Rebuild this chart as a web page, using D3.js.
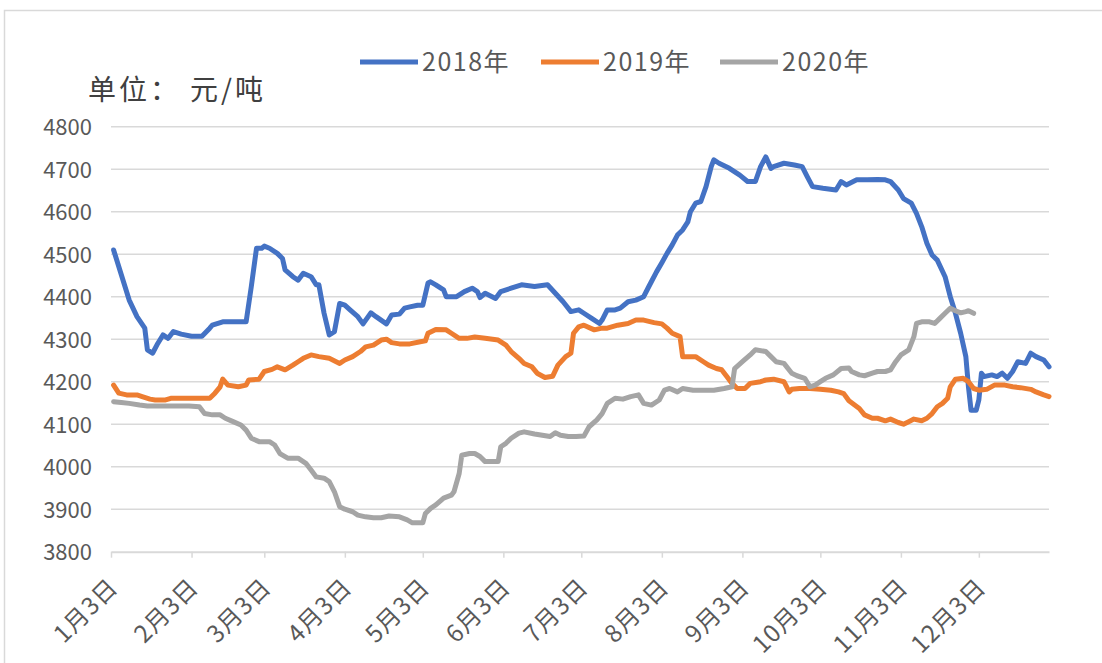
<!DOCTYPE html>
<html>
<head>
<meta charset="utf-8">
<script src="https://cdn.jsdelivr.net/npm/d3@7"></script>
<style>
  body { margin: 0; background: #fff; }
  text { font-family: "Noto Sans CJK SC", "Noto Sans", sans-serif; }
</style>
</head>
<body>
<svg id="chart" width="1102" height="663"></svg>
<script>
  /*
   * Data, "MM-DD" and 元/吨
   */
  var SERIES_NAMES = ["2018年", "2019年", "2020年"];
  var SERIES_COLORS = ["#4472C4", "#ED7D31", "#A5A5A5"];

  var DATA_2018 = [
    ["01-04",4510],["01-10",4392],["01-13",4353],["01-16",4326],["01-17",4275],["01-19",4267],
    ["01-21",4290],["01-23",4310],["01-25",4302],["01-27",4318],["01-30",4312],["02-03",4307],
    ["02-07",4307],["02-10",4326],["02-11",4333],["02-15",4341],["02-20",4341],["02-24",4341],
    ["02-26",4424],["02-28",4514],["03-02",4514],["03-03",4519],["03-05",4514],["03-08",4502],
    ["03-10",4490],["03-11",4463],["03-14",4447],["03-16",4439],["03-18",4455],["03-21",4447],
    ["03-23",4428],["03-24",4428],["03-26",4361],["03-28",4310],["03-30",4318],["04-01",4384],
    ["04-03",4380],["04-05",4369],["04-08",4353],["04-10",4336],["04-13",4362],["04-15",4353],
    ["04-19",4336],["04-21",4357],["04-24",4359],["04-26",4373],["04-28",4376],["05-01",4380],
    ["05-03",4380],["05-05",4432],["05-06",4435],["05-08",4428],["05-11",4416],["05-12",4400],
    ["05-16",4400],["05-19",4412],["05-22",4420],["05-24",4412],["05-25",4398],["05-27",4408],
    ["05-31",4396],["06-02",4412],["06-06",4420],["06-10",4428],["06-15",4424],["06-20",4428],
    ["06-23",4408],["06-26",4388],["06-29",4365],["07-02",4369],["07-04",4361],["07-07",4349],
    ["07-10",4337],["07-11",4345],["07-13",4369],["07-16",4369],["07-18",4373],["07-21",4388],
    ["07-24",4392],["07-27",4400],["07-29",4424],["08-01",4459],["08-03",4480],["08-05",4502],
    ["08-07",4522],["08-09",4545],["08-11",4557],["08-13",4576],["08-14",4600],["08-16",4620],
    ["08-18",4624],["08-20",4659],["08-22",4706],["08-23",4722],["08-25",4714],["08-29",4702],
    ["09-02",4686],["09-05",4671],["09-08",4671],["09-10",4706],["09-12",4729],["09-14",4702],
    ["09-15",4706],["09-19",4714],["09-23",4710],["09-26",4706],["09-28",4682],["09-30",4659],
    ["10-04",4655],["10-09",4651],["10-11",4671],["10-13",4663],["10-17",4675],["10-21",4675],
    ["10-25",4676],["10-28",4675],["10-30",4671],["11-02",4651],["11-04",4631],["11-07",4620],
    ["11-09",4596],["11-11",4565],["11-13",4526],["11-15",4498],["11-17",4486],["11-20",4447],
    ["11-22",4400],["11-24",4361],["11-26",4314],["11-28",4259],["11-29",4188],["11-30",4133],
    ["12-02",4133],["12-03",4157],["12-04",4220],["12-05",4212],["12-08",4216],["12-10",4212],
    ["12-12",4220],["12-14",4208],["12-16",4224],["12-18",4247],["12-21",4243],["12-23",4267],
    ["12-25",4259],["12-28",4251],["12-30",4235]
  ];

  var DATA_2019 = [
    ["01-04",4192],["01-06",4173],["01-09",4169],["01-11",4169],["01-13",4169],["01-15",4165],
    ["01-18",4159],["01-20",4157],["01-24",4157],["01-26",4161],["01-30",4161],["02-03",4161],
    ["02-07",4161],["02-10",4161],["02-12",4173],["02-14",4188],["02-15",4206],["02-17",4192],
    ["02-21",4188],["02-24",4192],["02-25",4204],["03-01",4206],["03-03",4224],["03-06",4229],
    ["03-08",4235],["03-11",4228],["03-14",4239],["03-16",4247],["03-18",4255],["03-21",4263],
    ["03-24",4259],["03-28",4255],["04-01",4243],["04-03",4251],["04-06",4259],["04-09",4271],
    ["04-11",4282],["04-14",4286],["04-17",4298],["04-19",4300],["04-21",4292],["04-24",4289],
    ["04-28",4289],["05-02",4294],["05-04",4296],["05-05",4314],["05-08",4323],["05-12",4322],
    ["05-14",4314],["05-17",4302],["05-20",4302],["05-23",4305],["05-27",4302],["06-01",4298],
    ["06-04",4286],["06-06",4271],["06-09",4255],["06-11",4243],["06-14",4235],["06-16",4220],
    ["06-19",4210],["06-22",4213],["06-24",4239],["06-27",4259],["06-29",4267],["06-30",4314],
    ["07-02",4329],["07-04",4333],["07-08",4322],["07-11",4326],["07-13",4326],["07-17",4333],
    ["07-21",4337],["07-24",4345],["07-27",4345],["07-31",4339],["08-03",4336],["08-05",4326],
    ["08-07",4314],["08-10",4306],["08-11",4259],["08-14",4259],["08-16",4259],["08-19",4247],
    ["08-21",4239],["08-24",4231],["08-26",4228],["08-28",4212],["08-30",4196],["09-01",4184],
    ["09-04",4184],["09-06",4196],["09-10",4200],["09-12",4204],["09-15",4206],["09-19",4200],
    ["09-21",4176],["09-22",4182],["09-25",4184],["09-29",4184],["10-03",4182],["10-07",4180],
    ["10-10",4176],["10-12",4172],["10-14",4155],["10-18",4137],["10-20",4122],["10-23",4114],
    ["10-25",4114],["10-28",4108],["10-30",4112],["11-02",4104],["11-04",4100],["11-06",4106],
    ["11-08",4112],["11-11",4108],["11-13",4114],["11-15",4125],["11-17",4141],["11-19",4149],
    ["11-21",4161],["11-22",4188],["11-24",4206],["11-27",4208],["11-29",4200],["12-01",4184],
    ["12-03",4180],["12-06",4182],["12-09",4192],["12-13",4192],["12-16",4188],["12-19",4186],
    ["12-23",4182],["12-25",4176],["12-28",4169],["12-30",4165]
  ];

  var DATA_2020 = [
    ["01-04",4153],["01-07",4151],["01-10",4149],["01-14",4145],["01-17",4143],["01-23",4143],
    ["01-28",4143],["02-02",4143],["02-06",4141],["02-08",4125],["02-11",4122],["02-14",4122],
    ["02-16",4114],["02-19",4106],["02-22",4098],["02-24",4086],["02-26",4067],["03-01",4059],
    ["03-05",4059],["03-07",4051],["03-09",4031],["03-12",4020],["03-16",4020],["03-19",4008],
    ["03-21",3992],["03-23",3976],["03-26",3973],["03-28",3965],["03-30",3941],["04-01",3906],
    ["04-03",3900],["04-06",3894],["04-08",3886],["04-11",3882],["04-14",3880],["04-17",3880],
    ["04-20",3884],["04-24",3882],["04-27",3875],["04-29",3868],["05-03",3868],["05-04",3890],
    ["05-06",3902],["05-08",3910],["05-11",3926],["05-14",3933],["05-15",3941],["05-17",3984],
    ["05-18",4027],["05-21",4031],["05-23",4031],["05-25",4024],["05-27",4012],["06-01",4012],
    ["06-02",4047],["06-04",4055],["06-06",4067],["06-09",4079],["06-11",4082],["06-15",4077],
    ["06-18",4074],["06-21",4071],["06-23",4080],["06-25",4074],["06-28",4071],["07-01",4071],
    ["07-04",4072],["07-06",4094],["07-09",4110],["07-11",4125],["07-13",4149],["07-16",4161],
    ["07-19",4159],["07-22",4165],["07-25",4169],["07-27",4149],["07-30",4145],["08-02",4157],
    ["08-04",4180],["08-06",4184],["08-09",4176],["08-11",4184],["08-15",4180],["08-19",4180],
    ["08-23",4180],["08-27",4184],["08-30",4188],["08-31",4231],["09-03",4247],["09-06",4263],
    ["09-08",4275],["09-12",4271],["09-14",4259],["09-16",4247],["09-19",4243],["09-22",4220],
    ["09-24",4214],["09-27",4208],["09-29",4188],["10-01",4192],["10-03",4200],["10-05",4208],
    ["10-08",4216],["10-11",4231],["10-14",4232],["10-15",4224],["10-18",4216],["10-20",4214],
    ["10-23",4220],["10-25",4224],["10-28",4224],["10-30",4228],["11-01",4247],["11-03",4263],
    ["11-06",4275],["11-08",4306],["11-09",4337],["11-11",4341],["11-14",4341],["11-16",4337],
    ["11-18",4349],["11-20",4361],["11-22",4373],["11-24",4367],["11-26",4362],["11-28",4365],
    ["11-29",4367],["12-01",4361]
  ];

  // Axis ticks:
  var X_TICKS = ["01-03","02-03","03-03","04-03","05-03","06-03",
                 "07-03","08-03","09-03","10-03","11-03","12-03"];
  var Y_TICKS = [3800, 3900, 4000, 4100, 4200, 4300, 4400, 4500, 4600, 4700, 4800];
  var X_DOMAIN = ["01-03", "12-30"];
  var Y_DOMAIN = [3800, 4800];
  var UNIT_LABEL = ["单位：", "元/吨"];

  /*
   * Layout
   */
  var PLOT_LEFT = 111;
  var PLOT_RIGHT = 1049;
  var PLOT_TOP = 126.7;
  var PLOT_BOTTOM = 551.7;
  var GRID_COLOR = "#d9d9d9";
  var TEXT_COLOR = "#595959";
  var LINE_WIDTH = 5;

  var parse = d3.timeParse("%Y-%m-%d");
  function to_date(s) { return parse("2018-" + s); }

  var svg = d3.select("#chart");

  // outer frame
  svg.append("rect")
    .attr("x", 4.5).attr("y", 10.5)
    .attr("width", 1110).attr("height", 670)
    .attr("fill", "none")
    .attr("stroke", GRID_COLOR)
    .attr("stroke-width", 1.5);

  var x = d3.scaleTime()
    .domain(X_DOMAIN.map(to_date))
    .range([PLOT_LEFT, PLOT_RIGHT]);
  var y = d3.scaleLinear()
    .domain(Y_DOMAIN)
    .range([PLOT_BOTTOM, PLOT_TOP]);

  // gridlines
  svg.append("g")
    .selectAll("line")
    .data(Y_TICKS.slice(1))
    .enter().append("line")
    .attr("x1", PLOT_LEFT).attr("x2", PLOT_RIGHT)
    .attr("y1", function (d) { return y(d); })
    .attr("y2", function (d) { return y(d); })
    .attr("stroke", GRID_COLOR)
    .attr("stroke-width", 1.5);

  // y-axis labels
  svg.append("g")
    .attr("transform", "translate(" + (PLOT_LEFT - 19) + ",0)")
    .call(d3.axisLeft(y).tickValues(Y_TICKS).tickSize(0).tickFormat(d3.format("d")))
    .call(function (g) { g.select(".domain").remove(); })
    .selectAll("text")
    .attr("x", 0)
    .attr("dy", "0.36em")
    .attr("fill", TEXT_COLOR)
    .style("font-size", "22px");

  // x-axis
  var xaxis = svg.append("g")
    .attr("transform", "translate(0," + PLOT_BOTTOM + ")")
    .call(d3.axisBottom(x)
      .tickValues(X_TICKS.map(to_date))
      .tickSize(6)
      .tickSizeOuter(0)
      .tickFormat(d3.timeFormat("%-m月%-d日")));
  xaxis.select(".domain")
    .attr("stroke", GRID_COLOR)
    .attr("stroke-width", 2);
  xaxis.selectAll(".tick line")
    .attr("stroke", GRID_COLOR)
    .attr("stroke-width", 1.5);
  xaxis.selectAll(".tick text")
    .attr("fill", TEXT_COLOR)
    .style("font-size", "24px")
    .style("letter-spacing", "1px")
    .attr("text-anchor", "end")
    .attr("y", 0)
    .attr("dy", 0)
    .attr("transform", "translate(8,37) rotate(-45)");

  // series lines
  var line = d3.line()
    .x(function (d) { return x(to_date(d[0])); })
    .y(function (d) { return y(d[1]); });

  var ALL = [DATA_2018, DATA_2019, DATA_2020];
  svg.append("g")
    .selectAll("path")
    .data(ALL)
    .enter().append("path")
    .attr("d", line)
    .attr("fill", "none")
    .attr("stroke", function (d, i) { return SERIES_COLORS[i]; })
    .attr("stroke-width", LINE_WIDTH)
    .attr("stroke-linejoin", "round")
    .attr("stroke-linecap", "round");

  // legend
  var LEGEND_X = [360, 541, 720];
  var legend = svg.append("g")
    .selectAll("g")
    .data(SERIES_NAMES)
    .enter().append("g")
    .attr("transform", function (d, i) { return "translate(" + LEGEND_X[i] + ",62)"; });
  legend.append("line")
    .attr("x1", 0).attr("x2", 58)
    .attr("stroke", function (d, i) { return SERIES_COLORS[i]; })
    .attr("stroke-width", 5);
  legend.append("text")
    .attr("x", 62)
    .attr("dy", "0.36em")
    .attr("fill", TEXT_COLOR)
    .style("font-size", "25px")
    .style("letter-spacing", "1.5px")
    .text(function (d) { return d; });

  // unit label
  var unit = svg.append("text")
    .attr("y", 100)
    .attr("fill", "#404040")
    .style("font-size", "28px")
    .style("letter-spacing", "3px");
  unit.append("tspan").attr("x", 88).text(UNIT_LABEL[0]);
  unit.append("tspan").attr("x", 190).text(UNIT_LABEL[1]);
</script>
</body>
</html>
